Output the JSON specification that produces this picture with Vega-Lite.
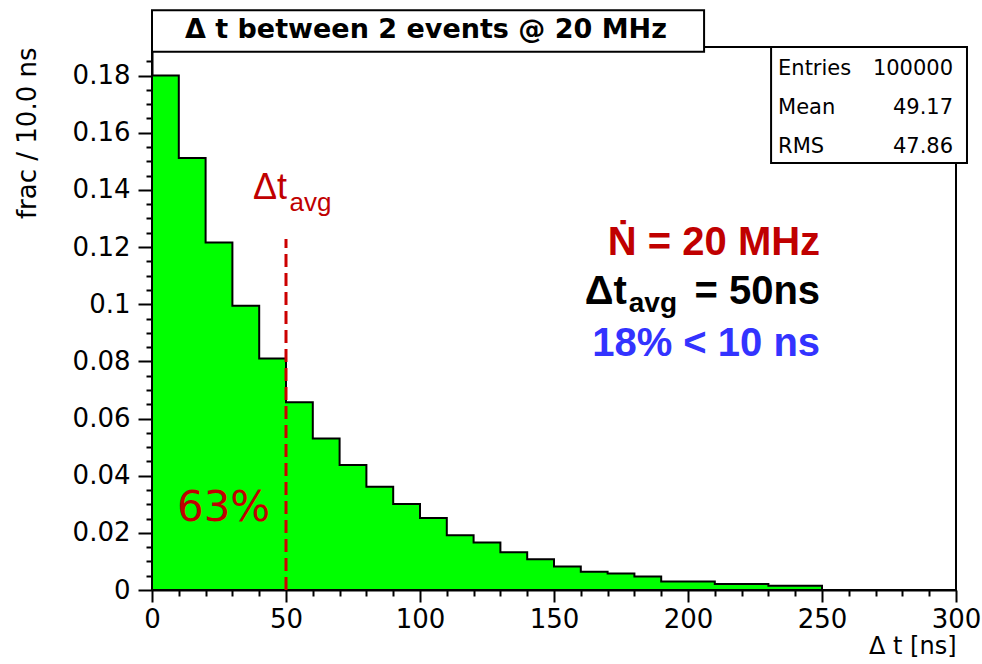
{
  "$schema": "https://vega.github.io/schema/vega-lite/v6.json",
  "width": 804,
  "height": 543,
  "autosize": {"type": "none"},
  "padding": {"left": 152, "top": 47, "right": 26, "bottom": 74},
  "background": "white",
  "config": {
    "view": {"stroke": "black", "strokeWidth": 2},
    "axis": {
      "grid": false,
      "domainColor": "black",
      "domainWidth": 2,
      "tickColor": "black",
      "tickWidth": 2,
      "labelColor": "black",
      "labelFont": "DejaVu Sans",
      "labelFontSize": 26,
      "labelFlush": false,
      "labelOverlap": false,
      "titleColor": "black",
      "titleFont": "DejaVu Sans",
      "titleFontWeight": "normal"
    }
  },
  "data": {
    "values": [
      {"t": 0, "frac": 0.1800},
      {"t": 10, "frac": 0.1512},
      {"t": 20, "frac": 0.1216},
      {"t": 30, "frac": 0.0995},
      {"t": 40, "frac": 0.0810},
      {"t": 50, "frac": 0.0657},
      {"t": 60, "frac": 0.0530},
      {"t": 70, "frac": 0.0437},
      {"t": 80, "frac": 0.0361},
      {"t": 90, "frac": 0.0301},
      {"t": 100, "frac": 0.0252},
      {"t": 110, "frac": 0.0192},
      {"t": 120, "frac": 0.0166},
      {"t": 130, "frac": 0.0132},
      {"t": 140, "frac": 0.0108},
      {"t": 150, "frac": 0.0082},
      {"t": 160, "frac": 0.0064},
      {"t": 170, "frac": 0.0058},
      {"t": 180, "frac": 0.0047},
      {"t": 190, "frac": 0.0030},
      {"t": 200, "frac": 0.0030},
      {"t": 210, "frac": 0.0021},
      {"t": 220, "frac": 0.0021},
      {"t": 230, "frac": 0.0015},
      {"t": 240, "frac": 0.0015},
      {"t": 250, "frac": 0},
      {"t": 260, "frac": 0},
      {"t": 270, "frac": 0},
      {"t": 280, "frac": 0},
      {"t": 290, "frac": 0}
    ]
  },
  "resolve": {"axis": {"x": "independent", "y": "independent"}},
  "layer": [
    {
      "mark": {"type": "point", "opacity": 0},
      "encoding": {
        "x": {
          "field": "t", "type": "quantitative",
          "scale": {"domain": [0, 300], "nice": false, "zero": false},
          "axis": {
            "orient": "bottom",
            "title": null,
            "labels": false,
            "domain": false,
            "tickSize": 6,
            "values": [10,20,30,40,60,70,80,90,110,120,130,140,160,170,180,190,210,220,230,240,260,270,280,290]
          }
        },
        "y": {
          "field": "frac", "type": "quantitative",
          "scale": {"domain": [0, 0.19], "nice": false},
          "axis": {
            "orient": "left",
            "title": null,
            "labels": false,
            "domain": false,
            "tickSize": 6,
            "values": [0.005,0.01,0.015,0.025,0.03,0.035,0.045,0.05,0.055,0.065,0.07,0.075,0.085,0.09,0.095,0.105,0.11,0.115,0.125,0.13,0.135,0.145,0.15,0.155,0.165,0.17,0.175,0.185]
          }
        }
      }
    },
    {
      "mark": {"type": "area", "interpolate": "step-after", "fill": "#00ff00", "fillOpacity": 1, "stroke": "black", "strokeWidth": 2},
      "encoding": {
        "x": {
          "field": "t", "type": "quantitative",
          "scale": {"domain": [0, 300], "nice": false, "zero": false},
          "axis": {
            "orient": "bottom",
            "title": "Δ t [ns]",
            "titleAnchor": "end",
            "titleFontSize": 24,
            "titlePadding": 2,
            "labelPadding": 4,
            "tickSize": 12,
            "values": [0, 50, 100, 150, 200, 250, 300],
            "format": "d"
          }
        },
        "y": {
          "field": "frac", "type": "quantitative",
          "scale": {"domain": [0, 0.19], "nice": false},
          "axis": {
            "orient": "left",
            "title": "frac / 10.0 ns",
            "titleAnchor": "end",
            "titleFontSize": 26,
            "titlePadding": 32,
            "labelPadding": 8,
            "tickSize": 14,
            "values": [0, 0.02, 0.04, 0.06, 0.08, 0.1, 0.12, 0.14, 0.16, 0.18],
            "format": "~g"
          }
        }
      }
    },
    {
      "data": {"values": [{}]},
      "mark": {"type": "rule", "color": "#cc0000", "strokeWidth": 3, "strokeDash": [13, 6]},
      "encoding": {"x": {"datum": 50, "axis": null}, "y": {"datum": 0, "axis": null}, "y2": {"datum": 0.1228}}
    },
    {
      "data": {"values": [{}]},
      "mark": {"type": "rect", "fill": "white", "stroke": "black", "strokeWidth": 2},
      "encoding": {"x": {"datum": 0, "axis": null}, "x2": {"datum": 206}, "y": {"datum": 0.2029, "axis": null}, "y2": {"datum": 0.1883}}
    },
    {
      "data": {"values": [{}]},
      "mark": {"type": "rect", "fill": "white", "stroke": "black", "strokeWidth": 2},
      "encoding": {"x": {"datum": 231, "axis": null}, "x2": {"datum": 304.1}, "y": {"datum": 0.19, "axis": null}, "y2": {"datum": 0.1494}}
    },
    {
      "data": {"values": [{}]},
      "mark": {"type": "text", "text": "Δ t between 2 events @ 20 MHz", "font": "DejaVu Sans", "fontWeight": "bold", "fontSize": 27, "align": "center", "baseline": "alphabetic", "color": "black"},
      "encoding": {"x": {"datum": 102.2, "axis": null}, "y": {"datum": 0.1932, "axis": null}}
    },
    {
      "data": {"values": [{}]},
      "mark": {"type": "text", "text": "Entries", "font": "DejaVu Sans", "fontSize": 21, "align": "left", "baseline": "alphabetic", "color": "black"},
      "encoding": {"x": {"datum": 233.6, "axis": null}, "y": {"datum": 0.1802, "axis": null}}
    },
    {
      "data": {"values": [{}]},
      "mark": {"type": "text", "text": "100000", "font": "DejaVu Sans", "fontSize": 21, "align": "right", "baseline": "alphabetic", "color": "black"},
      "encoding": {"x": {"datum": 298.9, "axis": null}, "y": {"datum": 0.1802, "axis": null}}
    },
    {
      "data": {"values": [{}]},
      "mark": {"type": "text", "text": "Mean", "font": "DejaVu Sans", "fontSize": 21, "align": "left", "baseline": "alphabetic", "color": "black"},
      "encoding": {"x": {"datum": 233.6, "axis": null}, "y": {"datum": 0.1666, "axis": null}}
    },
    {
      "data": {"values": [{}]},
      "mark": {"type": "text", "text": "49.17", "font": "DejaVu Sans", "fontSize": 21, "align": "right", "baseline": "alphabetic", "color": "black"},
      "encoding": {"x": {"datum": 298.9, "axis": null}, "y": {"datum": 0.1666, "axis": null}}
    },
    {
      "data": {"values": [{}]},
      "mark": {"type": "text", "text": "RMS", "font": "DejaVu Sans", "fontSize": 21, "align": "left", "baseline": "alphabetic", "color": "black"},
      "encoding": {"x": {"datum": 233.6, "axis": null}, "y": {"datum": 0.1529, "axis": null}}
    },
    {
      "data": {"values": [{}]},
      "mark": {"type": "text", "text": "47.86", "font": "DejaVu Sans", "fontSize": 21, "align": "right", "baseline": "alphabetic", "color": "black"},
      "encoding": {"x": {"datum": 298.9, "axis": null}, "y": {"datum": 0.1529, "axis": null}}
    },
    {
      "data": {"values": [{}]},
      "mark": {"type": "text", "text": "Δt", "font": "Liberation Sans", "fontSize": 36, "align": "left", "baseline": "alphabetic", "color": "#c00000"},
      "encoding": {"x": {"datum": 37.7, "axis": null}, "y": {"datum": 0.1368, "axis": null}}
    },
    {
      "data": {"values": [{}]},
      "mark": {"type": "text", "text": "avg", "font": "Liberation Sans", "fontSize": 26, "align": "left", "baseline": "alphabetic", "color": "#c00000"},
      "encoding": {"x": {"datum": 51.3, "axis": null}, "y": {"datum": 0.1326, "axis": null}}
    },
    {
      "data": {"values": [{}]},
      "mark": {"type": "text", "text": "63%", "font": "DejaVu Sans", "fontSize": 42, "align": "left", "baseline": "alphabetic", "color": "#c00000"},
      "encoding": {"x": {"datum": 9.3, "axis": null}, "y": {"datum": 0.0241, "axis": null}}
    },
    {
      "data": {"values": [{}]},
      "mark": {"type": "text", "text": "Ṅ = 20 MHz", "font": "Liberation Sans", "fontWeight": "bold", "fontSize": 40, "align": "right", "baseline": "alphabetic", "color": "#c00000"},
      "encoding": {"x": {"datum": 249.3, "axis": null}, "y": {"datum": 0.1172, "axis": null}}
    },
    {
      "data": {"values": [{}]},
      "mark": {"type": "text", "text": "Δt", "font": "Liberation Sans", "fontWeight": "bold", "fontSize": 40, "align": "right", "baseline": "alphabetic", "color": "black"},
      "encoding": {"x": {"datum": 177.2, "axis": null}, "y": {"datum": 0.1001, "axis": null}}
    },
    {
      "data": {"values": [{}]},
      "mark": {"type": "text", "text": "avg", "font": "Liberation Sans", "fontWeight": "bold", "fontSize": 28, "align": "right", "baseline": "alphabetic", "color": "black"},
      "encoding": {"x": {"datum": 195.9, "axis": null}, "y": {"datum": 0.0973, "axis": null}}
    },
    {
      "data": {"values": [{}]},
      "mark": {"type": "text", "text": "= 50ns", "font": "Liberation Sans", "fontWeight": "bold", "fontSize": 40, "align": "right", "baseline": "alphabetic", "color": "black"},
      "encoding": {"x": {"datum": 249.3, "axis": null}, "y": {"datum": 0.1001, "axis": null}}
    },
    {
      "data": {"values": [{}]},
      "mark": {"type": "text", "text": "18% < 10 ns", "font": "Liberation Sans", "fontWeight": "bold", "fontSize": 40, "align": "right", "baseline": "alphabetic", "color": "#3333ff"},
      "encoding": {"x": {"datum": 249.3, "axis": null}, "y": {"datum": 0.0819, "axis": null}}
    }
  ]
}
